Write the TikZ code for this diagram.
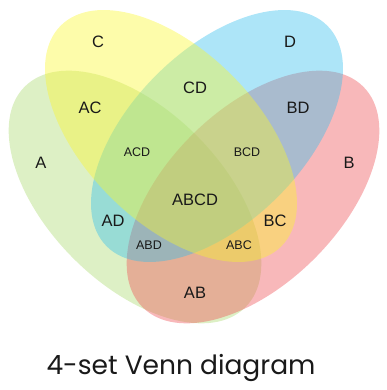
\documentclass[tikz,border=0pt]{standalone}
\usepackage{fontspec}
\setmainfont{Liberation Sans}
\newfontfamily\titlefont{Poppins}
\definecolor{setA}{HTML}{AAD96E}
\definecolor{setB}{HTML}{EE4E52}
\definecolor{setC}{HTML}{FAF72A}
\definecolor{setD}{HTML}{32BEED}
\begin{document}
\begin{tikzpicture}[x=1pt,y=-1pt,
  setfill/.style={fill=#1,fill opacity=0.4,draw=none},
  biglbl/.style={font=\fontsize{16.5}{18}\selectfont,text=black!90},
  smalllbl/.style={font=\fontsize{12.5}{14}\selectfont,text=black!90}]
\useasboundingbox (0,0) rectangle (387,390);
% the four sets, drawn in stacking order A, B, D, C
\fill[setfill=setA,rotate around={-45:(135,197)}] (135,197) ellipse [x radius=156,y radius=87];
\fill[setfill=setB,rotate around={45:(253,197)}] (253,197) ellipse [x radius=156,y radius=87];
\fill[setfill=setD,rotate around={45:(217,136)}] (217,136) ellipse [x radius=156,y radius=86];
\fill[setfill=setC,rotate around={-45:(171,136)}] (171,136) ellipse [x radius=156,y radius=86];
% region labels
\node[biglbl] (lC) at (98,42) {C};
\node[biglbl] (lD) at (290,42) {D};
\node[biglbl] (lCD) at (195,88) {CD};
\node[biglbl] (lAC) at (90,108) {AC};
\node[biglbl] (lBD) at (298,108) {BD};
\node[biglbl] (lA) at (41,163) {A};
\node[biglbl] (lB) at (349,163) {B};
\node[smalllbl] (lACD) at (137,152) {ACD};
\node[smalllbl] (lBCD) at (247,152) {BCD};
\node[biglbl] (lABCD) at (195,200) {ABCD};
\node[biglbl] (lAD) at (113,221) {AD};
\node[biglbl] (lBC) at (275,221) {BC};
\node[smalllbl] (lABD) at (149,245) {ABD};
\node[smalllbl] (lABC) at (239,245) {ABC};
\node[biglbl] (lAB) at (195,293) {AB};
% caption
\node[font=\titlefont\fontsize{26.5}{30}\selectfont,text=black!90] (title) at (181,368) {4-set Venn diagram};
\end{tikzpicture}
\end{document}
